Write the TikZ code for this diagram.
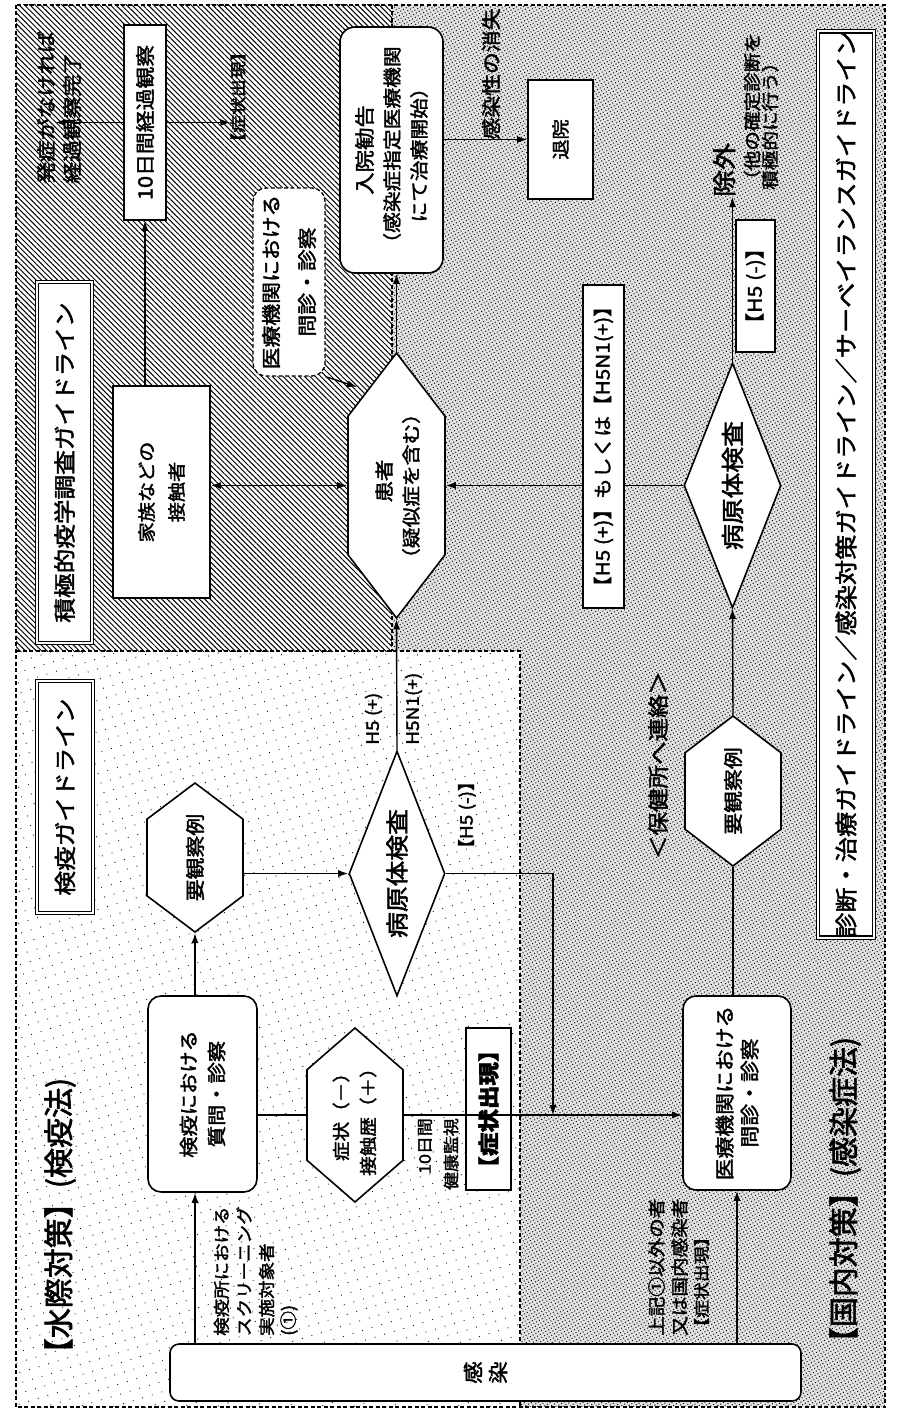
\documentclass[tikz,border=0pt]{standalone}
\usepackage{fontspec}
\setmainfont{Noto Sans CJK JP}[FakeStretch=1.12,FakeBold=2]
\newfontfamily\plainjp{Noto Sans CJK JP}[FakeBold=2]
\usetikzlibrary{shapes.geometric,shapes.symbols,arrows.meta,patterns.meta}
\begin{document}
\begin{tikzpicture}[x=1pt,y=-1pt,
  arr/.style={line width=1.4pt,-{Latex[length=10pt,width=7pt]}},
  dbl/.style={line width=1.4pt,{Latex[length=10pt,width=7pt]}-{Latex[length=10pt,width=7pt]}},
  ln/.style={line width=1.4pt},
  box/.style={draw,line width=1.6pt,fill=white,rotate=90,inner sep=0pt,align=center},
  rbox/.style={box,rounded corners=13pt},
  hexa/.style={draw,line width=1.6pt,fill=white,rotate=90,shape=signal,signal to=east and west,inner xsep=0pt,inner ysep=0pt,align=center},
  dia/.style={draw,line width=1.6pt,fill=white,rotate=90,shape=diamond,aspect=2.5,inner sep=0pt},
  lbl/.style={rotate=90,inner sep=0pt},
  gtitle/.style={draw,line width=1.2pt,double distance=2.4pt,fill=white,rotate=90,inner sep=0pt},
  region/.style={line width=1.1pt,dash pattern=on 4pt off 2.5pt},
]
\fill[white] (0,0) rectangle (898,1410);
\useasboundingbox (0,0) rectangle (898,1410);

% ---------- regions ----------
\fill[pattern={Lines[angle=-45,distance=3.8pt,line width=1pt]}] (16,5) rectangle (392,651);
\fill[black!11] (392,5) -- (885,5) -- (885,1407) -- (520,1407) -- (520,651) -- (392,651) -- cycle;
\fill[pattern={Dots[distance=3.2pt,radius=0.7pt,angle=30]}] (392,5) -- (885,5) -- (885,1407) -- (520,1407) -- (520,651) -- (392,651) -- cycle;
\fill[pattern={Dots[distance=10pt,radius=0.6pt,angle=17]}] (16,651) rectangle (520,1407);
\draw[region] (16,5) rectangle (885,1407);
\draw[region] (392,5) -- (392,651);
\draw[region] (16,651) -- (520,651) -- (520,1407);

% ---------- titles ----------
\node[gtitle,minimum width=361pt,minimum height=55pt,font=\fontsize{22}{24}\selectfont] (tSek) at (64.5,462.5) {積極的疫学調査ガイドライン};
\node[gtitle,minimum width=232pt,minimum height=56pt,font=\fontsize{22}{24}\selectfont] (tKen) at (65,797) {検疫ガイドライン};
\node[gtitle,minimum width=899pt,minimum height=56pt,font=\fontsize{22.5}{24}\selectfont] (tShin) at (846,484.5) {診断・治療ガイドライン／感染対策ガイドライン／サーベイランスガイドライン};
\node[lbl,font=\plainjp\fontsize{30}{32}\selectfont] (lMizu) at (60,1223) {【水際対策】(検疫法)};
\node[lbl,font=\plainjp\fontsize{30}{32}\selectfont] (lKoku) at (845,1197) {【国内対策】(感染症法)};

% ---------- nodes ----------
\node[rbox,rounded corners=9pt,minimum width=57pt,minimum height=631pt,font=\fontsize{20}{25}\selectfont] (kansen) at (485.5,1372.5) {感\\染};
\node[rbox,minimum width=196pt,minimum height=109pt,font=\fontsize{19}{28}\selectfont] (keneki) at (202.5,1094) {検疫における\\質問・診察};
\node[hexa,signal pointer angle=106,minimum width=149pt,minimum height=96pt,inner xsep=-6pt,font=\fontsize{19.5}{22}\selectfont] (youkan1) at (195,857.5) {要観察例};
\node[dia,minimum width=245pt,minimum height=96pt,font=\fontsize{23}{24}\selectfont] (byogen1) at (397,873.5) {病原体検査};
\node[hexa,signal pointer angle=98,minimum width=174pt,minimum height=96pt] (shojo) at (355,1115) {};
\node[lbl,font=\fontsize{17.5}{18}\selectfont] (shojoT1) at (341,1112) {症状（－）};
\node[lbl,font=\fontsize{17.5}{18}\selectfont] (shojoT2) at (368,1117) {接触歴（＋）};
\node[box,minimum width=162pt,minimum height=45pt,font=\fontsize{21}{22}\selectfont\bfseries] (shojoB) at (488.5,1109) {【症状出現】};
\node[rbox,minimum width=194pt,minimum height=108pt,font=\fontsize{19.5}{25}\selectfont] (iryo2) at (737,1093) {医療機関における\\問診・診察};
\node[hexa,signal pointer angle=105,minimum width=150pt,minimum height=96pt,inner xsep=-6pt,font=\fontsize{19.5}{22}\selectfont] (youkan2) at (733,791) {要観察例};
\node[dia,minimum width=245pt,minimum height=97pt,font=\fontsize{23}{24}\selectfont] (byogen2) at (732.5,485.5) {病原体検査};
\node[box,minimum width=323pt,minimum height=41pt,font=\fontsize{18.5}{20}\selectfont] (h5p) at (603.5,446.5) {【H5 (+)】もしくは【H5N1(+)】};
\node[box,minimum width=132pt,minimum height=39pt,font=\fontsize{19}{20}\selectfont] (h5m) at (755.5,286) {【H5 (-)】};
\node[lbl,anchor=west,font=\fontsize{24}{24}\selectfont] (jogai) at (724,197) {除外};
\node[lbl,anchor=west,font=\fontsize{17.5}{18}\selectfont] (jogai2) at (752,190) {（他の確定診断を};
\node[lbl,anchor=west,font=\fontsize{17.5}{18}\selectfont] (jogai3) at (770,190) {積極的に行う）};
\node[box,minimum width=119pt,minimum height=65pt,font=\fontsize{18}{20}\selectfont] (taiin) at (560.5,139.5) {退院};
\node[rbox,rounded corners=15pt,minimum width=246pt,minimum height=103pt,font=\fontsize{18.5}{27}\selectfont] (nyuin) at (391.5,150) {{\fontsize{20}{20}\selectfont 入院勧告}\\（感染症指定医療機関\\にて治療開始）};
\node[hexa,signal pointer angle=75,minimum width=265pt,minimum height=97pt] (kanja) at (396.5,485.5) {};
\node[lbl,font=\fontsize{19}{20}\selectfont] (kanjaT1) at (384,481) {患者};
\node[lbl,font=\fontsize{18.5}{20}\selectfont] (kanjaT2) at (411,486) {（疑似症を含む）};
\node[box,minimum width=212pt,minimum height=97pt,font=\fontsize{18}{30}\selectfont] (kazoku) at (161.5,492) {家族などの\\接触者};
\node[box,minimum width=195pt,minimum height=42pt,font=\fontsize{19.5}{20}\selectfont] (tenday) at (145,122.5) {10日間経過観察};
\node[lbl,anchor=west,font=\fontsize{19.5}{20}\selectfont] (hassho) at (46,184) {発症がなければ};
\node[lbl,anchor=west,font=\fontsize{19.5}{20}\selectfont] (hassho2) at (72,184) {経過観察完了};
\node[lbl,font=\fontsize{16}{17}\selectfont] (shojo0) at (238,97) {【症状出現】};
\node[rbox,dashed,dash pattern=on 4pt off 2.5pt,line width=1.3pt,minimum width=188pt,minimum height=72pt,font=\fontsize{19.5}{36}\selectfont] (iryo1) at (289,282) {医療機関における\\問診・診察};

% ---------- labels ----------
\node[lbl,font=\fontsize{19.5}{20}\selectfont] (kansenL) at (491,74) {感染性の消失};
\node[lbl,font=\fontsize{17}{18}\selectfont] (h5mL) at (467,815) {【H5 (-)】};
\node[lbl,font=\fontsize{21}{22}\selectfont] (hokenL) at (658,765) {＜保健所へ連絡＞};
\node[lbl,anchor=west,font=\fontsize{17}{18}\selectfont] (h5pL) at (373.5,745) {H5 (+)};
\node[lbl,anchor=west,font=\fontsize{17}{18}\selectfont] (h5n1L) at (413.5,745) {H5N1(+)};
\node[lbl,anchor=east,font=\fontsize{16}{17}\selectfont] (kenkoL) at (425,1118) {10日間};
\node[lbl,anchor=east,font=\fontsize{16}{17}\selectfont] (kenkoL2) at (451,1118) {健康監視};
\node[lbl,anchor=west,font=\fontsize{16.5}{17}\selectfont] (scrL) at (221.5,1336) {検疫所における};
\node[lbl,anchor=west,font=\fontsize{16.5}{17}\selectfont] (scrL2) at (244,1336) {スクリーニング};
\node[lbl,anchor=west,font=\fontsize{16.5}{17}\selectfont] (scrL3) at (266.5,1336) {実施対象者};
\node[lbl,anchor=west,font=\fontsize{16.5}{17}\selectfont] (scrL4) at (289,1336) {(①)};
\node[lbl,anchor=west,font=\fontsize{17.5}{18}\selectfont] (jokiL) at (656.5,1336) {上記①以外の者};
\node[lbl,anchor=west,font=\fontsize{17.5}{18}\selectfont] (jokiL2) at (679.5,1336) {又は国内感染者};
\node[lbl,anchor=west,font=\fontsize{16}{17}\selectfont] (jokiL3) at (701.5,1336) {【症状出現】};

% ---------- connectors ----------
\coordinate (merge) at (553,1115);
\coordinate (kIn) at (357,387);
\draw[arr] (kansen.east -| youkan1) -- (keneki.west -| youkan1);
\draw[arr] (kansen.east -| iryo2) -- (iryo2.west);
\draw[arr] (keneki.east -| youkan1) -- (youkan1.west);
\draw[ln] (keneki.south |- shojo) -- (shojo.north);
\draw[arr] (shojo.south) -- (iryo2.north |- shojo.south);
\draw[arr] (youkan1.south |- byogen1.north) -- (byogen1.north);
\draw[arr] (byogen1.south) -| (merge);
\draw[arr] (byogen1.east) -- (kanja.west);
\draw[dbl] (kanja.north) -- (kanja.north -| kazoku.south);
\draw[arr] (kazoku.east -| tenday) -- (tenday.west);
\draw[arr] (tenday.north) -- (tenday.north -| hassho.south);
\draw[arr] (tenday.south) -- (tenday.south -| shojo0.north);
\draw[arr] (kanja.east) -- (kanja.east |- nyuin.west);
\draw[arr] (nyuin.south |- taiin) -- (taiin.north);
\draw[arr] (iryo1.south west) -- (kIn);
\draw[arr] (h5p.north |- kanja.south) -- (kanja.south);
\draw[ln] (byogen2.north) -- (byogen2.north -| h5p.south);
\draw[arr] (byogen2.east) -- (byogen2.east |- jogai.west);
\draw[arr] (youkan2.east) -- (byogen2.west);
\draw[ln] (iryo2.east -| youkan2) -- (youkan2.west);
\end{tikzpicture}
\end{document}
